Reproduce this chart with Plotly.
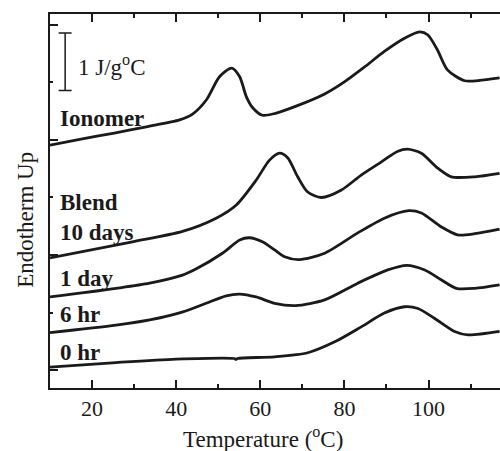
import plotly.graph_objects as go

# DSC heating traces (temperature in °C, heat capacity in J/g°C, curves offset vertically)
ionomer_T = [10.0, 17.7, 25.3, 32.9, 40.8, 43.9, 47.2, 50.3, 53.2, 55.1, 56.7, 58.2, 60.5, 63.4,
             69.3, 75.3, 80.0, 84.8, 89.5, 94.3, 97.9, 99.8, 102.1, 104.5, 108.6, 112.6, 116.9]
ionomer_cp = [3.91, 4.02, 4.12, 4.23, 4.35, 4.45, 4.70, 5.10, 5.25, 5.10, 4.75, 4.56, 4.43, 4.46,
              4.61, 4.80, 5.01, 5.27, 5.54, 5.77, 5.88, 5.83, 5.57, 5.22, 5.03, 5.04, 5.08]

blend10d_T = [10.0, 29.6, 41.5, 49.5, 54.3, 59.0, 62.2, 64.6, 66.5, 68.9, 71.2, 74.5, 79.3,
              84.0, 88.8, 92.6, 95.0, 98.3, 102.2, 105.4, 111.0, 116.9]
blend10d_cp = [1.95, 2.23, 2.41, 2.64, 2.87, 3.30, 3.65, 3.77, 3.69, 3.36, 3.10, 3.00, 3.13,
               3.39, 3.62, 3.80, 3.84, 3.77, 3.51, 3.36, 3.36, 3.42]

day1_T = [10.0, 25.7, 33.7, 41.5, 44.8, 51.0, 55.1, 57.4, 60.5, 63.4, 65.8, 69.3, 75.3, 83.1,
          89.5, 95.3, 98.3, 103.0, 106.9, 111.0, 116.9]
day1_cp = [1.27, 1.42, 1.51, 1.65, 1.76, 2.03, 2.26, 2.30, 2.23, 2.09, 1.97, 1.92, 2.03, 2.38,
           2.64, 2.77, 2.73, 2.49, 2.35, 2.37, 2.45]

hr6_T = [10.0, 25.7, 33.7, 41.6, 47.1, 51.9, 55.1, 59.0, 63.4, 68.4, 75.3, 83.2, 90.3, 94.8,
         99.1, 103.0, 106.6, 111.0, 116.9]
hr6_cp = [0.65, 0.78, 0.87, 1.01, 1.16, 1.29, 1.32, 1.27, 1.16, 1.12, 1.22, 1.51, 1.74, 1.82,
          1.74, 1.57, 1.42, 1.42, 1.48]

hr0_T = [10.0, 25.7, 40.0, 53.8, 54.2, 54.6, 63.4, 71.3, 77.7, 84.0, 89.5, 94.3, 97.5, 101.4,
         106.2, 109.4, 116.9]
hr0_cp = [0.05, 0.13, 0.19, 0.20, 0.185, 0.20, 0.23, 0.30, 0.49, 0.75, 0.99, 1.10, 1.07, 0.90,
          0.67, 0.61, 0.67]

curves = [
    (ionomer_T, ionomer_cp),
    (blend10d_T, blend10d_cp),
    (day1_T, day1_cp),
    (hr6_T, hr6_cp),
    (hr0_T, hr0_cp),
]

# curve labels: (text, y position)
labels = [("Ionomer", 4.38), ("Blend", 2.91), ("10 days", 2.39),
          ("1 day", 1.60), ("6 hr", 0.97), ("0 hr", 0.30)]

SCALE = 1.0          # J/g°C scale bar
scale_x = 13.6
scale_base = 4.86

x_range = [10, 117.0]
y_range = [-0.313, 6.191]

FONT = "Liberation Serif, Times New Roman, serif"
INK = "#1a1a1a"

fig = go.Figure()
for T, cp in curves:
    fig.add_trace(go.Scatter(
        x=T, y=cp, mode="lines",
        line=dict(color=INK, width=2.8, shape="spline", smoothing=0.75),
        showlegend=False, hoverinfo="skip"))

# scale bar drawn as a symmetric error bar around its midpoint
fig.add_trace(go.Scatter(
    x=[scale_x], y=[scale_base + SCALE / 2], mode="markers",
    marker=dict(size=1, color="rgba(0,0,0,0)"),
    error_y=dict(type="constant", value=SCALE / 2, color=INK, thickness=1.5, width=6.5),
    showlegend=False, hoverinfo="skip"))

fig.add_annotation(x=16.2, y=scale_base + SCALE / 2 - 0.06, xref="x", yref="y",
                   text="1 J/g<sup>o</sup>C", showarrow=False, xanchor="left", yanchor="middle",
                   font=dict(family=FONT, size=23, color=INK))

for txt, yv in labels:
    fig.add_annotation(x=11.8, y=yv, xref="x", yref="y", text="<b>%s</b>" % txt,
                       showarrow=False, xanchor="left", yanchor="middle",
                       font=dict(family=FONT, size=23, color=INK))

# axis titles
fig.add_annotation(x=0.4744, y=-0.132, xref="paper", yref="paper",
                   text="Temperature (<sup>o</sup>C)", showarrow=False,
                   xanchor="center", yanchor="middle",
                   font=dict(family=FONT, size=23, color=INK))
fig.add_annotation(x=-0.056, y=0.449, xref="paper", yref="paper",
                   text="Endotherm Up", textangle=-90, showarrow=False,
                   xanchor="center", yanchor="middle",
                   font=dict(family=FONT, size=23, color=INK))

fig.update_layout(
    width=500, height=451,
    margin=dict(l=50, r=0, t=14, b=63),
    paper_bgcolor="white", plot_bgcolor="white",
    font=dict(family=FONT, size=22, color=INK),
    xaxis=dict(range=x_range, tick0=0, dtick=20, ticks="inside", ticklen=8, tickwidth=1.5,
               tickcolor=INK, showline=True, linecolor=INK, linewidth=1.5, mirror="ticks",
               showgrid=False, zeroline=False,
               minor=dict(dtick=10, tick0=0, ticks="inside", ticklen=4, tickwidth=1.5,
                          tickcolor=INK, showgrid=False),
               tickfont=dict(family=FONT, size=22, color=INK)),
    yaxis=dict(range=y_range, tick0=0, dtick=2, ticks="inside", ticklen=8, tickwidth=1.5,
               tickcolor=INK, showline=True, linecolor=INK, linewidth=1.5,
               showticklabels=False, showgrid=False, zeroline=False,
               minor=dict(dtick=1, tick0=0, ticks="inside", ticklen=3, tickwidth=1.5,
                          tickcolor=INK, showgrid=False)),
)

fig.write_html("out.html")
